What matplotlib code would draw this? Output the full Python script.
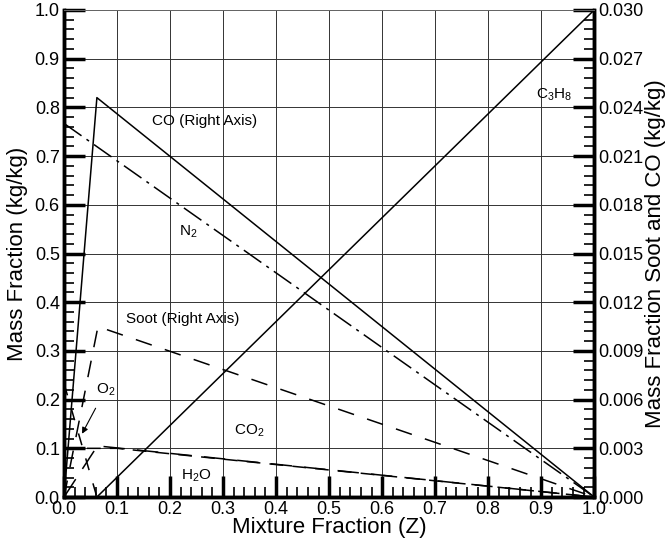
import matplotlib
matplotlib.use('Agg')
import matplotlib.pyplot as plt
from matplotlib.ticker import MultipleLocator, FormatStrFormatter

plt.rcParams['font.family'] = ['Liberation Sans', 'DejaVu Sans']
plt.rcParams['mathtext.fontset'] = 'custom'
plt.rcParams['mathtext.rm'] = 'Liberation Sans'
plt.rcParams['mathtext.it'] = 'Liberation Sans'

# state relationships
# left axis species
n2_z = [0.0, 1.0]
n2_y = [0.767, 0.0]
c3h8_z = [0.062, 1.0]
c3h8_y = [0.0, 1.0]
o2_z = [0.0, 0.062]
o2_y = [0.233, 0.0]
h2o_z = [0.0, 0.063, 1.0]
h2o_y = [0.0, 0.105, 0.0]
co2_z = [0.0, 0.1, 1.0]
co2_y = [0.1, 0.1, 0.0]
# right axis species
co_z = [0.0, 0.062, 1.0]
co_y = [0.0, 0.0246, 0.0]
soot_z = [0.0, 0.064, 1.0]
soot_y = [0.0, 0.0105, 0.0]

fig = plt.figure(figsize=(6.69, 5.45), dpi=100)
ax = fig.add_axes([0.0957, 0.088, 0.7925, 0.8937])
ax2 = ax.twinx()

lw = 1.1
ax.plot(n2_z, n2_y, color='k', lw=lw, dashes=(14, 4, 2, 4))
ax.plot(c3h8_z, c3h8_y, color='k', lw=lw)
ax.plot(o2_z, o2_y, color='k', lw=lw, dashes=(8, 9))
ax.plot(h2o_z, h2o_y, color='k', lw=lw, dashes=(14, 8))
ax.plot(co2_z, co2_y, color='k', lw=lw, dashes=(9, 6))
ax2.plot(co_z, co_y, color='k', lw=lw)
ax2.plot(soot_z, soot_y, color='k', lw=lw, dashes=(11, 9))

ax.set_xlim(0, 1)
ax.set_ylim(0, 1)
ax2.set_ylim(0, 0.03)

ax.xaxis.set_major_locator(MultipleLocator(0.1))
ax.xaxis.set_minor_locator(MultipleLocator(0.02))
ax.yaxis.set_major_locator(MultipleLocator(0.1))
ax.yaxis.set_minor_locator(MultipleLocator(0.02))
ax.xaxis.set_major_formatter(FormatStrFormatter('%.1f'))
ax.yaxis.set_major_formatter(FormatStrFormatter('%.1f'))
ax2.yaxis.set_major_locator(MultipleLocator(0.003))
ax2.yaxis.set_minor_locator(MultipleLocator(0.0006))
ax2.yaxis.set_major_formatter(FormatStrFormatter('%.3f'))

ax.grid(True, which='major', color='0.2', lw=0.7)
ax.set_axisbelow(True)

for a in (ax, ax2):
    a.tick_params(which='major', direction='in', length=15, width=2.5, labelsize=13, pad=3)
    a.tick_params(which='minor', direction='in', length=7, width=1.2)
    for s in ('left', 'right', 'bottom'):
        a.spines[s].set_linewidth(2.5)
    a.spines['top'].set_linewidth(0.7)
    a.spines['top'].set_color('0.4')
ax.tick_params(which='both', right=False, top=False)
ax2.tick_params(which='both', left=False, top=False)

ax.set_xlabel('Mixture Fraction (Z)', fontsize=16, labelpad=-1)
ax.set_ylabel('Mass Fraction (kg/kg)', fontsize=16, labelpad=5)
ax2.set_ylabel('Mass Fraction Soot and CO (kg/kg)', fontsize=16, labelpad=1)

fs = 11
ax.text(0.266, 0.773, 'CO (Right Axis)', fontsize=fs, ha='center', va='center')
ax.text(0.235, 0.545, r'N$_\mathregular{2}$', fontsize=fs, ha='center', va='center')
ax.text(0.925, 0.825, r'C$_\mathregular{3}$H$_\mathregular{8}$', fontsize=fs, ha='center', va='center')
ax.text(0.223, 0.365, 'Soot (Right Axis)', fontsize=fs, ha='center', va='center')
ax.text(0.35, 0.136, r'CO$_\mathregular{2}$', fontsize=fs, ha='center', va='center')
ax.text(0.25, 0.043, r'H$_\mathregular{2}$O', fontsize=fs, ha='center', va='center')
ax.annotate(r'O$_\mathregular{2}$', xy=(0.034, 0.13), xytext=(0.078, 0.22),
            fontsize=fs, ha='center', va='center',
            arrowprops=dict(arrowstyle='-|>', color='k', lw=0.8,
                            shrinkA=6, shrinkB=0, mutation_scale=9))

fig.savefig('out.png', dpi=100)
